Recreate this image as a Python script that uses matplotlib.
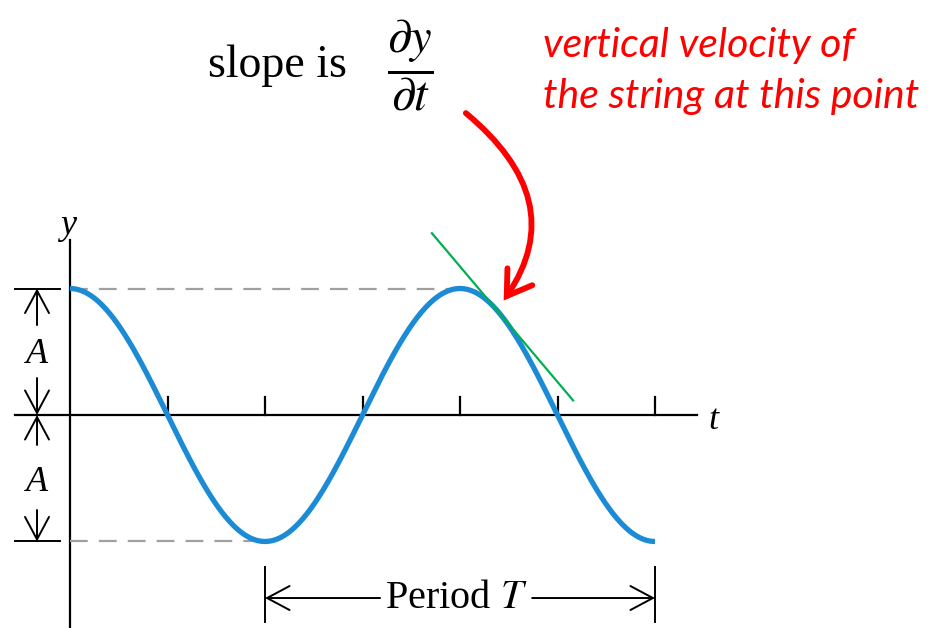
import numpy as np
import matplotlib.pyplot as plt
from matplotlib.patches import FancyArrowPatch
from matplotlib.path import Path

plt.rcParams['mathtext.fontset'] = 'stix'
serif = 'Liberation Serif'

# wave: y = A cos(2 pi t / T), drawn over 1.5 periods
A = 1.0
T = 1.0
t_end = 1.5
tick_t = [0.25, 0.5, 0.75, 1.0, 1.25, 1.5]
tangent_t = 1.0987          # point where the slope is shown
tangent_span = [0.928, 1.29]

t = np.linspace(0, t_end, 600)
y = A * np.cos(2 * np.pi * t / T)

blue = '#1c8bd6'
green = '#00b050'
red = '#ff0000'

fig = plt.figure(figsize=(9.31, 6.28), dpi=100)
ax = fig.add_axes([0, 0, 1, 1])
ax.set_xlim(-0.1795, 2.2077)
ax.set_ylim(-1.684, 3.281)
ax.axis('off')

# axes
ax.plot([-0.141, 1.608], [0, 0], color='k', lw=1.6)
ax.plot([0, 0], [-1.684, 1.383], color='k', lw=1.6)
for tk in tick_t:
    ax.plot([tk, tk], [0, 0.142], color='k', lw=1.6)
ax.text(-0.005, 1.502, 'y', family=serif, style='italic', fontsize=26, ha='center', va='center')
ax.text(1.649, -0.04, 't', family=serif, style='italic', fontsize=26, ha='center', va='center')

# dashed amplitude guides
ax.plot([0, T], [A, A], color='#a0a0a0', lw=1.6, dashes=(8, 5))
ax.plot([0, T / 2], [-A, -A], color='#a0a0a0', lw=1.6, dashes=(8, 5))

# the wave
ax.plot(t, y, color=blue, lw=3.8, solid_capstyle='butt')

# tangent
slope = -A * 2 * np.pi / T * np.sin(2 * np.pi * tangent_t / T)
y0 = A * np.cos(2 * np.pi * tangent_t / T)
tt = np.array(tangent_span)
ax.plot(tt, y0 + slope * (tt - tangent_t), color=green, lw=1.6)

arrow_kw = dict(arrowstyle='->,head_length=0.6,head_width=0.32', lw=1.4, color='k',
                shrinkA=0, shrinkB=0, mutation_scale=27)

# amplitude dimension on the left
xa = -0.0846
for yy in [A, -A]:
    ax.plot([-0.141, -0.026], [yy, yy], color='k', lw=1.4)
ax.annotate('', xy=(xa, A), xytext=(xa, 0.711), arrowprops=arrow_kw)
ax.annotate('', xy=(xa, 0), xytext=(xa, 0.292), arrowprops=arrow_kw)
ax.annotate('', xy=(xa, 0), xytext=(xa, -0.237), arrowprops=arrow_kw)
ax.annotate('', xy=(xa, -A), xytext=(xa, -0.751), arrowprops=arrow_kw)
ax.text(xa, 0.48, 'A', family=serif, style='italic', fontsize=26, ha='center', va='center')
ax.text(xa, -0.53, 'A', family=serif, style='italic', fontsize=26, ha='center', va='center')

# period dimension
for xx in [T / 2, T / 2 + T]:
    ax.plot([xx, xx], [-1.202, -1.636], color='k', lw=1.4)
ax.annotate('', xy=(T / 2, -1.447), xytext=(0.795, -1.447), arrowprops=arrow_kw)
ax.annotate('', xy=(1.5 * T, -1.447), xytext=(1.185, -1.447), arrowprops=arrow_kw)
ax.text(0.99, -1.447, r'Period $T$', family=serif, fontsize=29, ha='center', va='center')

# slope label
ax.text(0.354, 2.672, 'slope is', family=serif, fontsize=33, ha='left', va='baseline')
ax.text(0.872, 2.767, r'$\dfrac{\partial y}{\partial t}$', fontsize=35, ha='center', va='center')

# red note and curved arrow
ax.text(1.213, 2.83, 'vertical velocity of', family='Lato', style='italic', color=red,
        fontsize=29.5, ha='left', va='baseline')
ax.text(1.213, 2.427, 'the string at this point', family='Lato', style='italic', color=red,
        fontsize=29.5, ha='left', va='baseline')
verts = [(1.015, 2.387), (1.19, 1.937), (1.235, 1.462), (1.112, 0.905)]
codes = [Path.MOVETO, Path.CURVE4, Path.CURVE4, Path.CURVE4]
ax.add_patch(FancyArrowPatch(path=Path(verts, codes), arrowstyle='->,head_length=0.7,head_width=0.45',
                             color=red, lw=4.2, mutation_scale=24, joinstyle='miter'))

fig.savefig('out.png', dpi=100)
